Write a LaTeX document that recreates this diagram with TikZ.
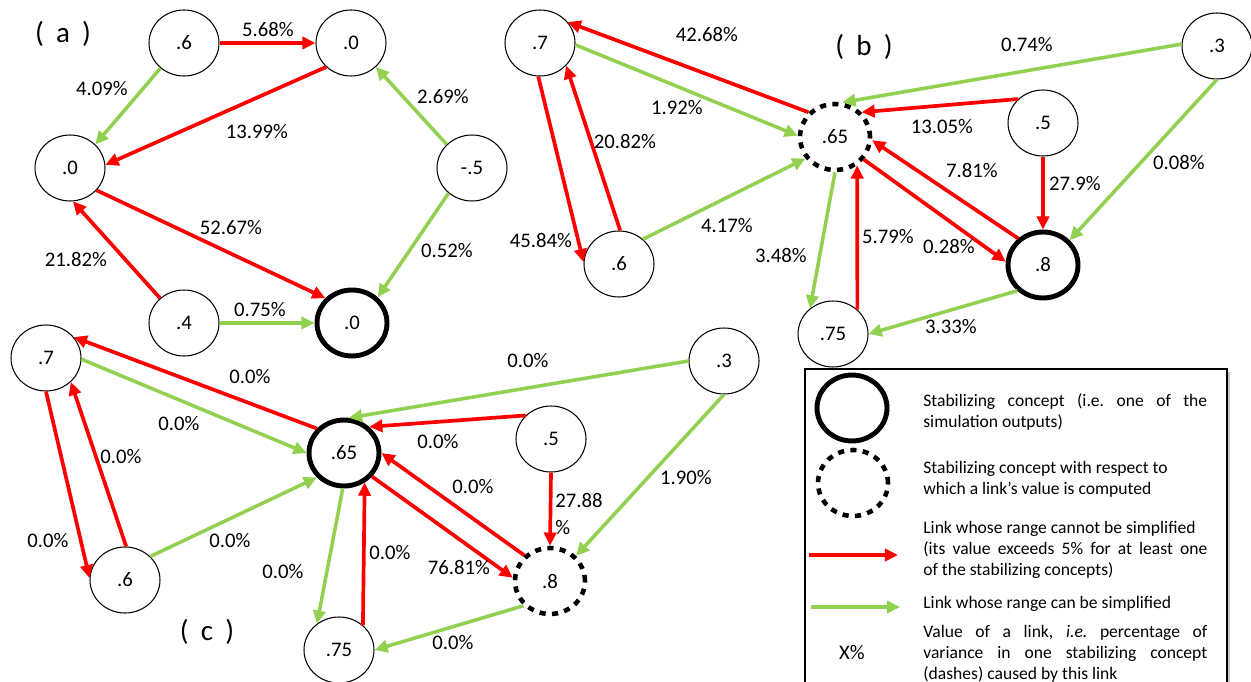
\documentclass[tikz,border=0pt]{standalone}
\usepackage{fontspec}
\setmainfont{Carlito}
\usetikzlibrary{arrows.meta,shapes.geometric}
\definecolor{lred}{HTML}{FF0000}
\definecolor{lgreen}{HTML}{92D050}
\frenchspacing
\tikzset{
 cn/.style={ellipse, draw, line width=0.6pt, minimum width=1.4cm, minimum height=1.32cm, inner sep=0pt, font=\fontsize{11.8}{13}\selectfont},
 stab/.style={cn, line width=2.8pt},
 stabd/.style={cn, line width=2.6pt, dash pattern=on 3.5pt off 3.6pt},
 rl/.style={draw=lred, line width=2.1pt, -{Triangle[length=7.5pt,width=7pt]}},
 gl/.style={draw=lgreen, line width=2pt, -{Triangle[length=7.5pt,width=7pt]}},
 pct/.style={font=\fontsize{11.8}{13}\selectfont, inner sep=0pt},
 plab/.style={font=\fontsize{16.5}{18}\selectfont, inner sep=0pt},
 ltext/.style={font=\fontsize{10}{11.9}\selectfont, inner sep=0pt, text width=5.68cm, align=justify, anchor=west}
}
\newcommand{\plabtext}[1]{(\hspace{0.42em}#1\hspace{0.42em})}
\begin{document}
\begin{tikzpicture}[x=0.02cm,y=-0.02cm]
\useasboundingbox (0,0) rectangle (1251,682);
% ---------- panel (a)
\node[plab] (pa) at (63,34) {\plabtext{a}};
\node[cn] (a6) at (184,43) {.6};
\node[cn] (a0t) at (351,43) {.0};
\node[cn] (a0l) at (70,168) {.0};
\node[cn] (am5) at (472,168) {-.5};
\node[cn] (a4) at (184,323) {.4};
\node[stab] (a0b) at (352,323) {.0};
\draw[rl] (a6.0) -- (a0t.180);
\draw[gl] (a6.227) -- (a0l.43);
\draw[rl] (a0t.224) -- (a0l.5);
\draw[gl] (am5.137) -- (a0t.316);
\draw[rl] (a0l.320) -- (a0b.137);
\draw[rl] (a4.134) -- (a0l.275);
\draw[gl] (am5.227) -- (a0b.45);
\draw[gl] (a4.0) -- (a0b.180);
\node[pct] (la1) at (268,30) {5.68\%};
\node[pct] (la2) at (102,89) {4.09\%};
\node[pct] (la3) at (257,132) {13.99\%};
\node[pct] (la4) at (443,97) {2.69\%};
\node[pct] (la5) at (231,228) {52.67\%};
\node[pct] (la6) at (76,260) {21.82\%};
\node[pct] (la7) at (447,251) {0.52\%};
\node[pct] (la8) at (260,310) {0.75\%};
% ---------- panel (b)
\node[plab] (pb) at (864,47) {\plabtext{b}};
\node[cn] (b7) at (540,43) {.7};
\node[stabd] (b65) at (835,137) {.65};
\node[cn] (b3) at (1217,46) {.3};
\node[cn] (b5) at (1043,123) {.5};
\node[cn] (b6) at (619,264) {.6};
\node[stab] (b8) at (1043,265) {.8};
\node[cn] (b75) at (833,334) {.75};
\draw[rl] (b65.137) -- (b7.37);
\draw[gl] (b7.-3) -- (b65.178);
\draw[gl] (b3.177) -- (b65.78);
\draw[rl] (b5.136) -- (b65.43);
\draw[rl] (b7.267) -- (b6.177);
\draw[rl] (b6.88) -- (b7.319);
\draw[gl] (b6.46) -- (b65.216);
\draw[rl] (b8.133) -- (b65.355);
\draw[rl] (b65.322) -- (b8.175);
\draw[rl] (b5.270) -- (b8.90);
\draw[gl] (b3.270) -- (b8.43);
\draw[gl] (b65.270) -- (b75.132);
\draw[rl] (b75.45) -- (b65.308);
\draw[gl] (b8.225) -- (b75.0);
\node[pct] (lb1) at (707,35) {42.68\%};
\node[pct] (lb2) at (1027,45) {0.74\%};
\node[pct] (lb3) at (677,108) {1.92\%};
\node[pct] (lb4) at (942,127) {13.05\%};
\node[pct] (lb5) at (625,142) {20.82\%};
\node[pct] (lb6) at (972,171) {7.81\%};
\node[pct] (lb7) at (1179,163) {0.08\%};
\node[pct] (lb8) at (1075,184) {27.9\%};
\node[pct] (lb9) at (727,226) {4.17\%};
\node[pct] (lb10) at (541,241) {45.84\%};
\node[pct] (lb11) at (888,237) {5.79\%};
\node[pct] (lb12) at (949,247) {0.28\%};
\node[pct] (lb13) at (781,256) {3.48\%};
\node[pct] (lb14) at (951,327) {3.33\%};
% ---------- panel (c)
\node[plab] (pc) at (207,632) {\plabtext{c}};
\node[cn] (c7) at (46,358) {.7};
\node[cn] (c6) at (125,580) {.6};
\node[stab] (c65) at (344,453) {.65};
\node[cn] (c5) at (551,439) {.5};
\node[cn] (c3) at (724,361) {.3};
\node[stabd] (c8) at (550,581) {.8};
\node[cn] (c75) at (339,650) {.75};
\draw[rl] (c65.138) -- (c7.37);
\draw[gl] (c7.-2) -- (c65.180);
\draw[gl] (c3.180) -- (c65.82);
\draw[rl] (c5.137) -- (c65.46);
\draw[rl] (c7.270) -- (c6.177);
\draw[rl] (c6.88) -- (c7.316);
\draw[gl] (c6.43) -- (c65.222);
\draw[rl] (c8.135) -- (c65.0);
\draw[rl] (c65.320) -- (c8.175);
\draw[rl] (c5.270) -- (c8.90);
\draw[gl] (c3.270) -- (c8.44);
\draw[gl] (c65.268) -- (c75.130);
\draw[rl] (c75.46) -- (c65.305);
\draw[gl] (c8.223) -- (c75.0);
\node[pct] (lc1) at (528,361) {0.0\%};
\node[pct] (lc2) at (250,377) {0.0\%};
\node[pct] (lc3) at (179,424) {0.0\%};
\node[pct] (lc4) at (438,442) {0.0\%};
\node[pct] (lc5) at (121,457) {0.0\%};
\node[pct] (lc6) at (473,487) {0.0\%};
\node[pct] (lc7) at (686,478) {1.90\%};
\node[pct, anchor=west] (lc8a) at (555,500) {27.88};
\node[pct, anchor=west] (lc8b) at (555,528) {\%};
\node[pct] (lc9) at (48,541) {0.0\%};
\node[pct] (lc10) at (230,541) {0.0\%};
\node[pct] (lc11) at (283,572) {0.0\%};
\node[pct] (lc12) at (390,553) {0.0\%};
\node[pct] (lc13) at (459,568) {76.81\%};
\node[pct] (lc14) at (453,643) {0.0\%};
% ---------- legend
\draw[gray!45, line width=1.2pt] (1229,372) -- (1229,690);
\draw[line width=0.6pt] (805,690) -- (805,369) -- (1227,369) -- (1227,690);
\node[stab] (lgs) at (852,408) {};
\node[stabd] (lgd) at (853,483) {};
\coordinate (lra) at (809,555);
\coordinate (lrb) at (898,555);
\draw[rl, line width=2.3pt] (lra) -- (lrb);
\coordinate (lga) at (811,607);
\coordinate (lgb) at (900,607);
\draw[gl, line width=2.3pt] (lga) -- (lgb);
\node[pct] (lx) at (852,653) {X\%};
\node[ltext] (t1) at (923,412) {Stabilizing concept (i.e. one of the\linebreak simulation outputs)};
\node[ltext] (t2) at (923,479) {Stabilizing concept with respect to\\ which a link’s value is computed};
\node[ltext] (t3) at (923,550) {Link whose range cannot be simplified\\ (its value exceeds 5\% for at least one\linebreak of the stabilizing concepts)};
\node[ltext] (t4) at (923,604) {Link whose range can be simplified};
\node[ltext] (t5) at (923,654) {Value of a link, \textit{i.e.} percentage of\linebreak variance in one stabilizing concept\linebreak (dashes) caused by this link};
\end{tikzpicture}
\end{document}
